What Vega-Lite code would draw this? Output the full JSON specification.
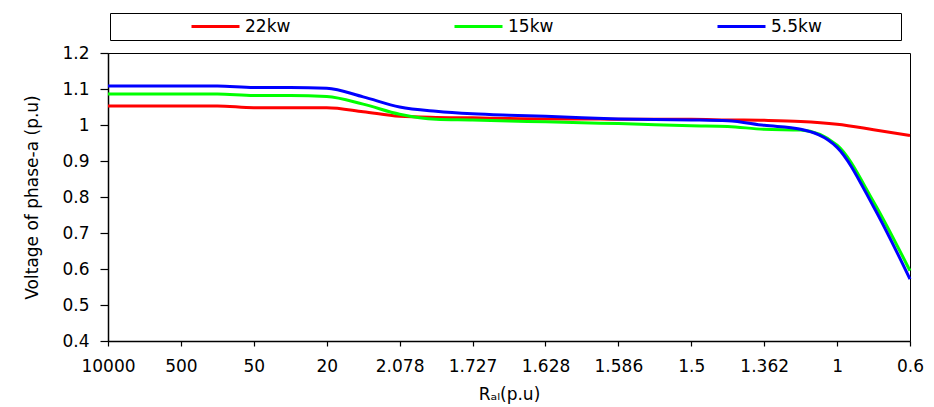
{
  "$schema": "https://vega.github.io/schema/vega-lite/v6.json",
  "autosize": {"type": "none"},
  "width": 802,
  "height": 288,
  "padding": {"left": 108, "top": 53, "right": 24, "bottom": 66},
  "background": "white",
  "config": {
    "font": "DejaVu Sans",
    "view": {"stroke": "#000000", "strokeWidth": 1},
    "axis": {"grid": false, "domainColor": "#000000", "domainWidth": 1.5, "tickColor": "#000000", "tickWidth": 1.2, "labelColor": "#000000", "titleColor": "#000000", "labelFontSize": 17, "titleFontSize": 17, "titleFontWeight": "normal", "labelFont": "DejaVu Sans", "titleFont": "DejaVu Sans"}
  },
  "datasets": {
    "curves": [
      {"i": 0, "R": "10000", "series": "22kw", "v": 1.053},
      {"i": 1, "R": "", "series": "22kw", "v": 1.053},
      {"i": 2, "R": "500", "series": "22kw", "v": 1.053},
      {"i": 3, "R": "", "series": "22kw", "v": 1.053},
      {"i": 4, "R": "50", "series": "22kw", "v": 1.048},
      {"i": 5, "R": "", "series": "22kw", "v": 1.048},
      {"i": 6, "R": "20", "series": "22kw", "v": 1.048},
      {"i": 7, "R": "", "series": "22kw", "v": 1.037},
      {"i": 8, "R": "2.078", "series": "22kw", "v": 1.024},
      {"i": 9, "R": "", "series": "22kw", "v": 1.021},
      {"i": 10, "R": "1.727", "series": "22kw", "v": 1.020},
      {"i": 11, "R": "", "series": "22kw", "v": 1.018},
      {"i": 12, "R": "1.628", "series": "22kw", "v": 1.017},
      {"i": 13, "R": "", "series": "22kw", "v": 1.017},
      {"i": 14, "R": "1.586", "series": "22kw", "v": 1.016},
      {"i": 15, "R": "", "series": "22kw", "v": 1.016},
      {"i": 16, "R": "1.5", "series": "22kw", "v": 1.016},
      {"i": 17, "R": "", "series": "22kw", "v": 1.014},
      {"i": 18, "R": "1.362", "series": "22kw", "v": 1.013},
      {"i": 19, "R": "", "series": "22kw", "v": 1.010},
      {"i": 20, "R": "1", "series": "22kw", "v": 1.002},
      {"i": 21, "R": "", "series": "22kw", "v": 0.987},
      {"i": 22, "R": "0.6", "series": "22kw", "v": 0.971},
      {"i": 0, "R": "10000", "series": "15kw", "v": 1.086},
      {"i": 1, "R": "", "series": "15kw", "v": 1.086},
      {"i": 2, "R": "500", "series": "15kw", "v": 1.086},
      {"i": 3, "R": "", "series": "15kw", "v": 1.086},
      {"i": 4, "R": "50", "series": "15kw", "v": 1.082},
      {"i": 5, "R": "", "series": "15kw", "v": 1.082},
      {"i": 6, "R": "20", "series": "15kw", "v": 1.079},
      {"i": 7, "R": "", "series": "15kw", "v": 1.058},
      {"i": 8, "R": "2.078", "series": "15kw", "v": 1.030},
      {"i": 9, "R": "", "series": "15kw", "v": 1.016},
      {"i": 10, "R": "1.727", "series": "15kw", "v": 1.014},
      {"i": 11, "R": "", "series": "15kw", "v": 1.011},
      {"i": 12, "R": "1.628", "series": "15kw", "v": 1.009},
      {"i": 13, "R": "", "series": "15kw", "v": 1.006},
      {"i": 14, "R": "1.586", "series": "15kw", "v": 1.004},
      {"i": 15, "R": "", "series": "15kw", "v": 1.001},
      {"i": 16, "R": "1.5", "series": "15kw", "v": 0.998},
      {"i": 17, "R": "", "series": "15kw", "v": 0.996},
      {"i": 18, "R": "1.362", "series": "15kw", "v": 0.988},
      {"i": 19, "R": "", "series": "15kw", "v": 0.986},
      {"i": 20, "R": "1", "series": "15kw", "v": 0.944},
      {"i": 21, "R": "", "series": "15kw", "v": 0.787},
      {"i": 22, "R": "0.6", "series": "15kw", "v": 0.595},
      {"i": 0, "R": "10000", "series": "5.5kw", "v": 1.108},
      {"i": 1, "R": "", "series": "5.5kw", "v": 1.108},
      {"i": 2, "R": "500", "series": "5.5kw", "v": 1.108},
      {"i": 3, "R": "", "series": "5.5kw", "v": 1.108},
      {"i": 4, "R": "50", "series": "5.5kw", "v": 1.104},
      {"i": 5, "R": "", "series": "5.5kw", "v": 1.104},
      {"i": 6, "R": "20", "series": "5.5kw", "v": 1.102},
      {"i": 7, "R": "", "series": "5.5kw", "v": 1.078},
      {"i": 8, "R": "2.078", "series": "5.5kw", "v": 1.050},
      {"i": 9, "R": "", "series": "5.5kw", "v": 1.038},
      {"i": 10, "R": "1.727", "series": "5.5kw", "v": 1.031},
      {"i": 11, "R": "", "series": "5.5kw", "v": 1.027},
      {"i": 12, "R": "1.628", "series": "5.5kw", "v": 1.024},
      {"i": 13, "R": "", "series": "5.5kw", "v": 1.020},
      {"i": 14, "R": "1.586", "series": "5.5kw", "v": 1.017},
      {"i": 15, "R": "", "series": "5.5kw", "v": 1.015},
      {"i": 16, "R": "1.5", "series": "5.5kw", "v": 1.014},
      {"i": 17, "R": "", "series": "5.5kw", "v": 1.012},
      {"i": 18, "R": "1.362", "series": "5.5kw", "v": 0.999},
      {"i": 19, "R": "", "series": "5.5kw", "v": 0.988},
      {"i": 20, "R": "1", "series": "5.5kw", "v": 0.938},
      {"i": 21, "R": "", "series": "5.5kw", "v": 0.773},
      {"i": 22, "R": "0.6", "series": "5.5kw", "v": 0.572}
    ]
  },
  "data": {"name": "curves"},
  "mark": {"type": "line", "interpolate": "monotone", "strokeWidth": 3},
  "encoding": {
    "x": {
      "field": "i",
      "type": "quantitative",
      "scale": {"domain": [0, 22], "nice": false, "zero": false},
      "axis": {
        "title": "Rₐₗ(p.u)",
        "values": [0, 2, 4, 6, 8, 10, 12, 14, 16, 18, 20, 22],
        "labelExpr": "['10000','500','50','20','2.078','1.727','1.628','1.586','1.5','1.362','1','0.6'][round(datum.value/2)]",
        "tickSize": 5,
        "labelPadding": 12,
        "titlePadding": 12,
        "labelFlush": false,
        "labelOverlap": false
      }
    },
    "y": {
      "field": "v",
      "type": "quantitative",
      "scale": {"domain": [0.4, 1.2], "nice": false, "zero": false},
      "axis": {
        "title": "Voltage of phase-a (p.u)",
        "tickCount": 8,
        "format": "~g",
        "tickSize": 8,
        "labelPadding": 11,
        "titlePadding": 20
      }
    },
    "color": {
      "field": "series",
      "type": "nominal",
      "scale": {"domain": ["22kw", "15kw", "5.5kw"], "range": ["#ff0000", "#00ff00", "#0000ff"]},
      "legend": {
        "title": " ",
        "titleOrient": "right",
        "titlePadding": 74,
        "titleFontSize": 17,
        "orient": "none",
        "direction": "horizontal",
        "legendX": 2,
        "legendY": -40,
        "padding": 5,
        "clipHeight": 17,
        "strokeColor": "#000000",
        "symbolType": "stroke",
        "symbolSize": 2304,
        "symbolStrokeWidth": 3,
        "symbolOffset": 75,
        "labelOffset": 4,
        "labelFontSize": 17,
        "labelColor": "#000000",
        "columnPadding": 87
      }
    }
  }
}
